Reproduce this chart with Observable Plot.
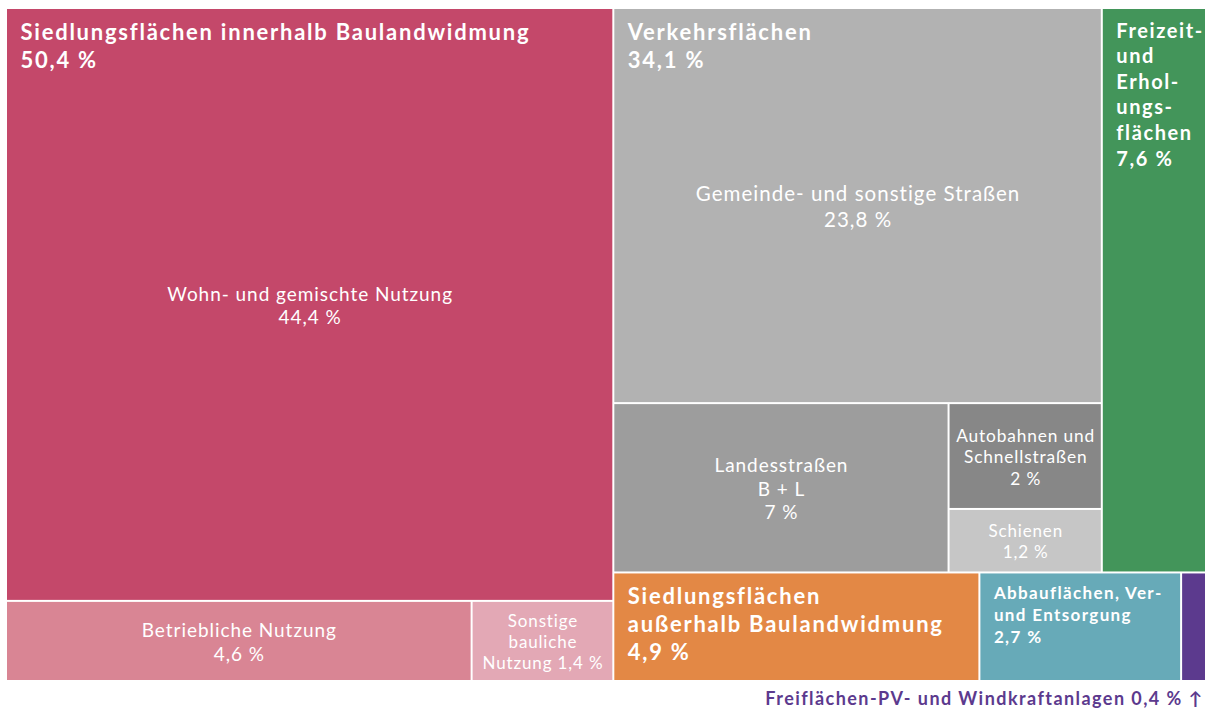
<!DOCTYPE html>
<html>
<head>
<meta charset="utf-8">
<script src="https://cdn.jsdelivr.net/npm/d3@7"></script>
<script src="https://cdn.jsdelivr.net/npm/@observablehq/plot@0.6"></script>
<style>
  html, body { margin: 0; padding: 0; background: #fff; overflow: hidden; }
  svg { display: block; }
  g[font-weight="700"] text { letter-spacing: 0.08em; }
  g[font-weight="400"] text { letter-spacing: 0.05em; }
</style>
</head>
<body>
<div id="chart"></div>
<script>
// Tree structure (pre-order), with split direction for grouping nodes
const nodeIds     = ["root","innen","wohn","innenUnten","betrieb","sonstige","rest","restOben","verkehr","gemeinde","verkehrUnten","landes","verkehrRechts","autobahn","schienen","freizeit","restUnten","aussen","abbau","pv"];
const nodeParents = [null,"root","innen","innen","innenUnten","innenUnten","root","rest","restOben","verkehr","verkehr","verkehrUnten","verkehrUnten","verkehrRechts","verkehrRechts","restOben","rest","restUnten","restUnten","restUnten"];
const nodeSplits  = ["x","y",null,"x",null,null,"y","x","y",null,"x",null,"y",null,null,null,"x",null,null,null];

// Shares in percent (leaves)
const shares = {wohn: 44.4, betrieb: 4.6, sonstige: 1.4, gemeinde: 23.8, landes: 7, autobahn: 2, schienen: 1.2, freizeit: 7.6, aussen: 4.9, abbau: 2.7, pv: 0.4};

// Colours
const colors = {wohn: "#c4486a", betrieb: "#d98594", sonstige: "#e3a8b5", gemeinde: "#b2b2b2", landes: "#9d9d9d", autobahn: "#878787", schienen: "#c6c6c6", freizeit: "#43955a", aussen: "#e38845", abbau: "#67aab8", pv: "#5c3a8e"};

// Header labels (bold, top-left) with font size
const headerIds   = ["innen", "verkehr", "freizeit", "aussen", "abbau"];
const headerTexts = ["Siedlungsflächen innerhalb Baulandwidmung\n50,4 %", "Verkehrsflächen\n34,1 %", "Freizeit-\nund\nErhol-\nungs-\nflächen\n7,6 %", "Siedlungsflächen\naußerhalb Baulandwidmung\n4,9 %", "Abbauflächen, Ver-\nund Entsorgung\n2,7 %"];
const headerSizes = [22, 22, 20, 22, 17];

// Centered labels
const innerIds   = ["wohn", "betrieb", "sonstige", "gemeinde", "landes", "autobahn", "schienen"];
const innerTexts = ["Wohn- und gemischte Nutzung\n44,4 %", "Betriebliche Nutzung\n4,6 %", "Sonstige\nbauliche\nNutzung 1,4 %", "Gemeinde- und sonstige Straßen\n23,8 %", "Landesstraßen\nB + L\n7 %", "Autobahnen und\nSchnellstraßen\n2 %", "Schienen\n1,2 %"];
const innerSizes = [19, 19, 17, 20.5, 19, 17.3, 17];

const footnote = "Freiflächen-PV- und Windkraftanlagen 0,4 % ↑";

// Build hierarchy
const rows = nodeIds.map((id, i) => ({id, parent: nodeParents[i], split: nodeSplits[i], value: shares[id] ?? 0}));
const root = d3.stratify().id(d => d.id).parentId(d => d.parent)(rows).sum(d => d.value);
d3.treemap()
  .size([1, 1])
  .tile((node, x0, y0, x1, y1) => (node.data.split === "x" ? d3.treemapDice : d3.treemapSlice)(node, x0, y0, x1, y1))
  (root);

const byId = new Map(root.descendants().map(n => [n.id, n]));
const leaves = root.leaves();
const headers = headerIds.map((id, i) => ({node: byId.get(id), text: headerTexts[i], size: headerSizes[i]}));
const inners = innerIds.map((id, i) => ({node: byId.get(id), text: innerTexts[i], size: innerSizes[i]}));
const pvNode = byId.get("pv");

const chart = Plot.plot({
  width: 1205,
  height: 709,
  margin: 0,
  x: {domain: [0, 1], range: [6, 1211], axis: null},
  y: {domain: [0, 1], range: [8, 681], axis: null},
  color: {type: "identity"},
  style: {fontFamily: "Lato, sans-serif", background: "#fff"},
  marks: [
    Plot.rect(leaves, {
      x1: d => d.x0, x2: d => d.x1, y1: d => d.y0, y2: d => d.y1,
      fill: d => colors[d.id], inset: 1
    }),
    Plot.text(headers, {
      x: d => d.node.x0, y: d => d.node.y0, text: d => d.text,
      fontSize: d => d.size, textAnchor: "start", lineAnchor: "top",
      lineHeight: 1.28, dx: 14, dy: 11, fill: "white", fontWeight: 700,
      fontFamily: "Lato, sans-serif"
    }),
    Plot.text(inners, {
      x: d => (d.node.x0 + d.node.x1) / 2, y: d => (d.node.y0 + d.node.y1) / 2, text: d => d.text,
      fontSize: d => d.size, textAnchor: "middle", lineAnchor: "middle",
      lineHeight: 1.24, fill: "white", fontWeight: 400,
      fontFamily: "Lato, sans-serif"
    }),
    Plot.text([footnote], {
      x: () => pvNode.x1, y: () => 1, text: d => d,
      textAnchor: "end", lineAnchor: "middle", dx: -8, dy: 18,
      fill: colors.pv, fontSize: 18, fontWeight: 700, fontFamily: "Lato, sans-serif"
    })
  ]
});
document.getElementById("chart").append(chart);
</script>
</body>
</html>
